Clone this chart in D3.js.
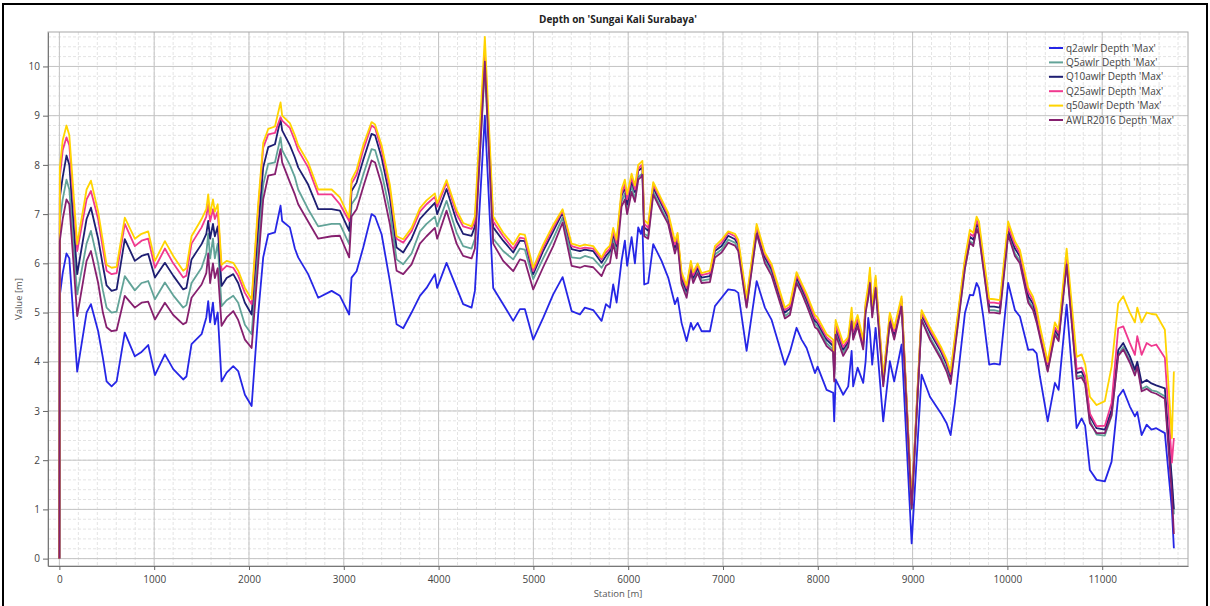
<!DOCTYPE html>
<html>
<head>
<meta charset="utf-8">
<script src="https://cdn.jsdelivr.net/npm/d3@7"></script>
<style>
  html, body { margin: 0; padding: 0; background: #fff; }
  svg text { font-family: "Open Sans", "Noto Sans", sans-serif; }
</style>
</head>
<body>
<div id="chart"></div>
<script>
const width = 1210,
      height = 606;
const plot = { left: 48, right: 1188, top: 32, bottom: 566 };

// station [m]
const stations = [0, 5, 35, 75, 105, 188, 287, 333, 409, 459, 498, 551, 604, 690, 796, 867, 937, 1008, 1113, 1201, 1306, 1340, 1394, 1500, 1550, 1570, 1590, 1620, 1640, 1670, 1711, 1764, 1834, 1886, 1957, 2028, 2097, 2150, 2203, 2274, 2333, 2350, 2431, 2484, 2519, 2624, 2730, 2872,
  2959, 3057, 3082, 3135, 3205, 3293, 3330, 3399, 3486, 3557, 3627, 3715, 3803, 3873, 3961, 3985, 4084, 4190, 4259, 4348, 4383, 4488, 4576, 4681, 4787, 4858, 4910, 4998, 5103, 5209, 5308, 5403, 5491, 5543, 5631, 5719, 5765, 5807, 5842, 5878, 5930, 5965, 5989, 6036,
  6071, 6106, 6134, 6150, 6169, 6211, 6264, 6352, 6422, 6493, 6521, 6563, 6616, 6661, 6686, 6732, 6774, 6862, 6915, 6985, 7055, 7126, 7161, 7249, 7355, 7442, 7513, 7653, 7706, 7776, 7829, 7882, 7970, 7998, 8093, 8162, 8173, 8188, 8268, 8321, 8357, 8373, 8420, 8479, 8504, 8532, 8550, 8574, 8610, 8690, 8760, 8806, 8884, 8990,
  9095, 9183, 9300, 9359, 9401, 9446, 9552, 9604, 9640, 9675, 9700, 9745, 9808, 9860, 9921, 10008, 10079, 10132, 10220, 10270, 10308, 10343, 10425, 10501, 10540, 10625, 10730, 10783, 10820, 10870, 10941, 11028, 11099, 11169, 11222, 11292, 11345, 11370, 11416, 11469, 11520, 11570, 11661, 11735, 11756];

// depth 'Max' [m] per run
const q2awlr = [0, 5.35, 5.8, 6.2, 6.1, 3.8, 5.0, 5.17, 4.62, 4.08, 3.6, 3.5, 3.6, 4.59, 4.11, 4.2, 4.34, 3.73, 4.15, 3.85, 3.64, 3.7, 4.36, 4.56, 4.9, 5.23, 4.8, 5.2, 4.76, 5.0, 3.6, 3.78, 3.91, 3.81, 3.33, 3.1, 4.96, 6.12, 6.59, 6.63, 7.17, 6.86, 6.73, 6.3, 6.12, 5.78, 5.3, 5.44,
  5.34, 4.96, 5.71, 5.84, 6.32, 7.0, 6.95, 6.59, 5.64, 4.76, 4.68, 5.0, 5.34, 5.5, 5.78, 5.5, 6.01, 5.5, 5.17, 5.1, 5.44, 9.0, 5.5, 5.17, 4.83, 5.07, 5.07, 4.45, 4.89, 5.37, 5.72, 5.03, 4.96, 5.1, 5.05, 4.83, 5.17, 5.1, 5.57, 5.2, 6.05, 6.46, 5.95, 6.53,
  6.0, 6.73, 6.6, 6.75, 5.57, 5.6, 6.39, 6.05, 5.71, 5.17, 5.3, 4.79, 4.42, 4.79, 4.65, 4.79, 4.62, 4.62, 5.13, 5.3, 5.47, 5.45, 5.4, 4.22, 5.64, 5.1, 4.85, 3.94, 4.2, 4.69, 4.45, 4.28, 3.77, 3.9, 3.43, 3.37, 2.79, 3.64, 3.33, 3.5, 4.22, 3.5, 3.88, 3.57, 4.0, 4.89, 4.6, 3.94, 4.69, 2.79, 4.01, 3.6, 4.35, 0.31,
  3.74, 3.29, 2.95, 2.75, 2.51, 3.16, 4.99, 5.36, 5.35, 5.6, 5.5, 4.92, 3.94, 3.96, 3.94, 5.6, 5.05, 4.92, 4.24, 4.25, 4.17, 3.7, 2.79, 3.57, 3.43, 5.16, 2.65, 2.85, 2.7, 1.8, 1.6, 1.57, 1.97, 3.29, 3.43, 3.09, 2.89, 2.98, 2.51, 2.72, 2.62, 2.65, 2.55, 1.0, 0.21];

const q5awlr = [0, 6.86, 7.3, 7.7, 7.5, 5.37, 6.4, 6.66, 6.0, 5.45, 5.1, 5.0, 5.02, 5.74, 5.45, 5.6, 5.64, 5.27, 5.61, 5.35, 5.1, 5.15, 5.6, 5.91, 6.2, 6.6, 6.1, 6.5, 6.1, 6.4, 5.13, 5.25, 5.34, 5.2, 4.75, 4.56, 6.3, 7.6, 8.02, 8.05, 8.56, 8.3, 8.0, 7.75, 7.5, 7.1, 6.75, 6.8,
  6.8, 6.39, 7.2, 7.35, 7.8, 8.32, 8.3, 7.85, 7.05, 6.08, 5.98, 6.2, 6.65, 6.8, 6.95, 6.75, 7.27, 6.62, 6.35, 6.3, 6.5, 9.95, 6.5, 6.25, 6.08, 6.3, 6.28, 5.68, 6.1, 6.5, 6.93, 6.12, 6.1, 6.15, 6.1, 5.91, 6.05, 6.2, 6.5, 6.25, 7.25, 7.42, 7.1, 7.58,
  7.3, 7.75, 7.8, 7.82, 6.6, 6.55, 7.45, 7.1, 6.85, 6.25, 6.45, 5.65, 5.37, 5.9, 5.65, 5.85, 5.65, 5.68, 6.18, 6.28, 6.48, 6.42, 6.3, 5.12, 6.62, 6.05, 5.82, 4.93, 5.0, 5.65, 5.45, 5.2, 4.77, 4.72, 4.38, 4.25, 3.7, 4.62, 4.19, 4.35, 4.88, 4.5, 4.78, 4.3, 5.05, 5.3, 5.65, 4.95, 5.56, 3.55, 4.83, 4.5, 5.17, 1.0,
  4.85, 4.5, 4.1, 3.85, 3.62, 4.3, 5.9, 6.45, 6.4, 6.72, 6.6, 5.95, 5.05, 5.05, 5.02, 6.6, 6.2, 6.05, 5.25, 5.1, 4.85, 4.55, 3.82, 4.58, 4.45, 6.0, 3.7, 3.72, 3.58, 2.8, 2.52, 2.5, 2.9, 4.15, 4.3, 4.02, 3.78, 3.95, 3.45, 3.5, 3.42, 3.4, 3.3, 1.5, 0.9];

const q10awlr = [0, 7.34, 7.75, 8.19, 8.0, 5.78, 6.9, 7.13, 6.5, 5.95, 5.55, 5.44, 5.47, 6.49, 6.05, 6.15, 6.19, 5.71, 6.01, 5.75, 5.47, 5.5, 6.08, 6.39, 6.6, 6.86, 6.5, 6.8, 6.55, 6.75, 5.54, 5.7, 5.78, 5.6, 5.2, 4.96, 6.73, 7.95, 8.36, 8.42, 8.93, 8.7, 8.4, 8.15, 7.95, 7.6, 7.1, 7.1,
  7.07, 6.66, 7.47, 7.64, 8.1, 8.63, 8.6, 8.15, 7.34, 6.32, 6.22, 6.5, 6.9, 7.05, 7.23, 7.0, 7.51, 6.86, 6.6, 6.56, 6.75, 10.2, 6.73, 6.46, 6.22, 6.46, 6.45, 5.78, 6.25, 6.65, 7.03, 6.29, 6.25, 6.28, 6.25, 6.01, 6.15, 6.25, 6.6, 6.35, 7.37, 7.54, 7.2, 7.68,
  7.45, 7.88, 7.92, 7.95, 6.73, 6.66, 7.54, 7.2, 6.93, 6.32, 6.52, 5.71, 5.44, 5.95, 5.71, 5.91, 5.71, 5.74, 6.25, 6.35, 6.56, 6.49, 6.38, 5.2, 6.69, 6.12, 5.88, 5.0, 5.08, 5.71, 5.5, 5.27, 4.83, 4.78, 4.45, 4.32, 3.75, 4.69, 4.25, 4.4, 4.93, 4.55, 4.83, 4.35, 5.1, 5.4, 5.71, 5.0, 5.61, 3.6, 4.89, 4.56, 5.23, 1.09,
  4.95, 4.6, 4.2, 3.95, 3.7, 4.4, 6.0, 6.54, 6.48, 6.82, 6.7, 6.05, 5.12, 5.12, 5.1, 6.68, 6.3, 6.14, 5.33, 5.18, 4.92, 4.6, 3.9, 4.65, 4.52, 6.07, 3.77, 3.8, 3.65, 2.89, 2.65, 2.62, 3.02, 4.24, 4.38, 4.11, 3.84, 4.0, 3.57, 3.63, 3.56, 3.52, 3.46, 1.6, 1.0];

const q25awlr = [0, 7.75, 8.3, 8.56, 8.4, 6.25, 7.3, 7.47, 6.9, 6.3, 5.85, 5.78, 5.8, 6.8, 6.35, 6.46, 6.5, 5.91, 6.3, 6.0, 5.71, 5.75, 6.4, 6.73, 6.95, 7.2, 6.85, 7.1, 6.9, 7.05, 5.85, 5.95, 5.91, 5.75, 5.4, 5.17, 7.1, 8.35, 8.62, 8.65, 8.97, 8.9, 8.75, 8.49, 8.3, 7.95, 7.4, 7.4,
  7.2, 6.86, 7.62, 7.8, 8.3, 8.8, 8.75, 8.3, 7.5, 6.5, 6.42, 6.65, 7.05, 7.2, 7.35, 7.15, 7.64, 7.0, 6.75, 6.7, 6.85, 10.3, 6.85, 6.55, 6.29, 6.52, 6.5, 5.84, 6.32, 6.72, 7.07, 6.35, 6.3, 6.32, 6.3, 6.08, 6.22, 6.3, 6.65, 6.4, 7.42, 7.6, 7.3, 7.75,
  7.5, 7.92, 7.98, 8.0, 6.8, 6.72, 7.6, 7.25, 6.98, 6.38, 6.57, 5.76, 5.5, 6.0, 5.76, 5.96, 5.76, 5.8, 6.3, 6.42, 6.62, 6.55, 6.42, 5.25, 6.74, 6.18, 5.93, 5.05, 5.12, 5.76, 5.55, 5.32, 4.88, 4.83, 4.5, 4.38, 3.8, 4.75, 4.3, 4.45, 4.98, 4.6, 4.88, 4.4, 5.15, 5.45, 5.8, 5.05, 5.68, 3.65, 4.95, 4.62, 5.28, 1.12,
  5.0, 4.65, 4.25, 4.0, 3.75, 4.45, 6.05, 6.6, 6.55, 6.88, 6.75, 6.12, 5.2, 5.2, 5.18, 6.75, 6.38, 6.2, 5.42, 5.25, 5.0, 4.65, 3.95, 4.7, 4.58, 6.15, 3.85, 3.88, 3.72, 2.95, 2.69, 2.7, 3.16, 4.68, 4.72, 4.38, 4.14, 4.52, 4.14, 4.38, 4.32, 4.35, 4.08, 1.95, 2.45];

const q50awlr = [0, 7.95, 8.5, 8.8, 8.6, 6.39, 7.5, 7.68, 7.05, 6.45, 5.97, 5.91, 5.93, 6.93, 6.5, 6.6, 6.65, 6.05, 6.45, 6.15, 5.85, 5.9, 6.55, 6.9, 7.1, 7.4, 7.0, 7.3, 7.05, 7.2, 5.97, 6.05, 6.01, 5.85, 5.5, 5.27, 7.2, 8.45, 8.73, 8.78, 9.27, 9.0, 8.85, 8.6, 8.4, 8.05, 7.5, 7.5,
  7.34, 6.93, 7.7, 7.9, 8.4, 8.87, 8.82, 8.4, 7.6, 6.55, 6.49, 6.72, 7.12, 7.28, 7.42, 7.22, 7.69, 7.08, 6.82, 6.75, 6.95, 10.6, 6.95, 6.62, 6.38, 6.6, 6.58, 5.91, 6.38, 6.78, 7.1, 6.4, 6.35, 6.38, 6.35, 6.12, 6.28, 6.36, 6.72, 6.48, 7.5, 7.7, 7.4, 7.82,
  7.58, 8.0, 8.05, 8.08, 6.88, 6.8, 7.65, 7.3, 7.03, 6.45, 6.62, 5.82, 5.55, 6.05, 5.82, 6.0, 5.8, 5.85, 6.35, 6.48, 6.65, 6.6, 6.48, 5.3, 6.8, 6.22, 5.98, 5.1, 5.18, 5.82, 5.6, 5.38, 4.95, 4.9, 4.56, 4.45, 4.0, 4.85, 4.38, 4.5, 5.1, 4.68, 4.95, 4.45, 5.2, 5.55, 5.91, 5.1, 5.75, 3.7, 5.0, 4.68, 5.33, 1.15,
  5.05, 4.7, 4.3, 4.05, 3.8, 4.5, 6.1, 6.68, 6.62, 6.95, 6.85, 6.18, 5.28, 5.27, 5.25, 6.85, 6.45, 6.27, 5.5, 5.32, 5.08, 4.72, 4.0, 4.8, 4.65, 6.3, 4.1, 4.15, 3.95, 3.29, 3.12, 3.2, 3.9, 5.19, 5.33, 5.0, 4.8, 5.1, 4.8, 5.0, 4.97, 4.96, 4.65, 2.45, 3.8];

const awlr2016 = [0, 6.46, 6.9, 7.3, 7.2, 4.93, 6.05, 6.25, 5.6, 5.0, 4.7, 4.62, 4.64, 5.34, 5.1, 5.2, 5.22, 4.86, 5.2, 4.95, 4.76, 4.8, 5.3, 5.57, 5.8, 6.2, 5.6, 6.0, 5.7, 5.9, 4.73, 4.9, 5.03, 4.85, 4.45, 4.28, 6.0, 7.3, 7.78, 7.81, 8.32, 8.05, 7.65, 7.4, 7.2, 6.85, 6.5, 6.55,
  6.56, 6.12, 6.95, 7.1, 7.55, 8.09, 8.05, 7.6, 6.8, 5.85, 5.78, 5.98, 6.4, 6.55, 6.72, 6.5, 7.07, 6.4, 6.15, 6.1, 6.3, 10.1, 6.4, 6.05, 5.84, 6.08, 6.05, 5.47, 5.92, 6.35, 6.83, 5.95, 5.91, 5.95, 5.92, 5.74, 5.95, 6.0, 6.4, 6.1, 7.15, 7.3, 7.0, 7.45,
  7.25, 7.7, 7.75, 7.8, 6.55, 6.5, 7.4, 7.05, 6.8, 6.2, 6.4, 5.58, 5.3, 5.82, 5.6, 5.8, 5.6, 5.62, 6.12, 6.22, 6.42, 6.36, 6.25, 5.1, 6.6, 6.0, 5.75, 4.88, 4.95, 5.6, 5.4, 5.15, 4.7, 4.66, 4.32, 4.2, 3.6, 4.55, 4.12, 4.3, 4.82, 4.45, 4.72, 4.25, 5.0, 5.3, 5.6, 4.9, 5.5, 3.5, 4.8, 4.45, 5.12, 1.02,
  4.85, 4.45, 4.05, 3.8, 3.55, 4.25, 5.9, 6.42, 6.35, 6.7, 6.58, 5.92, 5.0, 5.0, 4.98, 6.58, 6.15, 6.0, 5.2, 5.05, 4.8, 4.5, 3.8, 4.55, 4.42, 5.98, 3.65, 3.68, 3.55, 2.75, 2.55, 2.55, 2.92, 4.12, 4.25, 3.98, 3.72, 3.9, 3.4, 3.45, 3.38, 3.35, 3.25, 1.3, 0.5];

const seriesNames = ["q2awlr Depth 'Max'", "Q5awlr Depth 'Max'", "Q10awlr Depth 'Max'", "Q25awlr Depth 'Max'", "q50awlr Depth 'Max'", "AWLR2016 Depth 'Max'"];
const seriesValues = [q2awlr, q5awlr, q10awlr, q25awlr, q50awlr, awlr2016];
const seriesColors = ["#2626e6", "#62a398", "#1e1e72", "#f0398f", "#ffd400", "#86206f"];

const xMajorTicks = d3.range(0, 11001, 1000);
const xMinorTicks = d3.range(0, 11801, 200);
const yMajorTicks = d3.range(0, 11, 1);
const yMinorTicks = d3.range(0, 10.61, 0.2);

const svg = d3.select("#chart")
  .append("svg")
  .attr("width", width)
  .attr("height", height);

const x = d3.scaleLinear().domain([-120, 11905]).range([plot.left, plot.right]);
const y = d3.scaleLinear().domain([-0.15, 10.7]).range([plot.bottom, plot.top]);

// outer frame
svg.append("rect")
  .attr("x", 3).attr("y", 4)
  .attr("width", width - 6).attr("height", height + 10)
  .attr("fill", "none")
  .attr("stroke", "#000")
  .attr("stroke-width", 2);

// grid
const grid = svg.append("g");
grid.selectAll(".vminor").data(xMinorTicks).join("line")
  .attr("x1", d => x(d)).attr("x2", d => x(d))
  .attr("y1", plot.top).attr("y2", plot.bottom)
  .attr("stroke", "#e4e4e4").attr("stroke-dasharray", "3,2");
grid.selectAll(".hminor").data(yMinorTicks).join("line")
  .attr("x1", plot.left).attr("x2", plot.right)
  .attr("y1", d => y(d)).attr("y2", d => y(d))
  .attr("stroke", "#e4e4e4").attr("stroke-dasharray", "3,2");
grid.selectAll(".vmajor").data(xMajorTicks).join("line")
  .attr("x1", d => x(d)).attr("x2", d => x(d))
  .attr("y1", plot.top).attr("y2", plot.bottom)
  .attr("stroke", "#c4c4c4");
grid.selectAll(".hmajor").data(yMajorTicks).join("line")
  .attr("x1", plot.left).attr("x2", plot.right)
  .attr("y1", d => y(d)).attr("y2", d => y(d))
  .attr("stroke", "#c4c4c4");

svg.append("rect")
  .attr("x", plot.left).attr("y", plot.top)
  .attr("width", plot.right - plot.left).attr("height", plot.bottom - plot.top)
  .attr("fill", "none").attr("stroke", "#a8a8a8");

// lines
const line = d3.line()
  .x((d, i) => x(stations[i]))
  .y(d => y(d));

seriesValues.forEach((values, i) => {
  svg.append("path")
    .datum(values)
    .attr("fill", "none")
    .attr("stroke", seriesColors[i])
    .attr("stroke-width", 1.8)
    .attr("stroke-linejoin", "round")
    .attr("d", line);
});

// axes
const xAxis = svg.append("g").attr("transform", `translate(0,${plot.bottom})`);
xAxis.call(d3.axisBottom(x).tickValues(xMinorTicks).tickSize(4).tickFormat("").tickSizeOuter(0));
xAxis.call(d3.axisBottom(x).tickValues(xMajorTicks).tickSize(4).tickSizeOuter(0).tickPadding(6).tickFormat(d3.format("d")));
xAxis.selectAll("path").attr("stroke", "#777");
xAxis.selectAll("line").attr("stroke", "#666");
xAxis.selectAll("text").attr("font-size", 10).attr("fill", "#444");

const yAxis = svg.append("g").attr("transform", `translate(${plot.left},0)`);
yAxis.call(d3.axisLeft(y).tickValues(yMinorTicks).tickSize(3).tickFormat("").tickSizeOuter(0));
yAxis.call(d3.axisLeft(y).tickValues(yMajorTicks).tickSize(5).tickSizeOuter(0).tickPadding(3));
yAxis.selectAll("path").attr("stroke", "#777");
yAxis.selectAll("line").attr("stroke", "#666");
yAxis.selectAll("text").attr("font-size", 10).attr("fill", "#444");

// titles
svg.append("text")
  .attr("x", (plot.left + plot.right) / 2)
  .attr("y", 23)
  .attr("text-anchor", "middle")
  .attr("font-size", 10)
  .attr("font-weight", "bold")
  .attr("fill", "#222")
  .text("Depth on 'Sungai Kali Surabaya'");

svg.append("text")
  .attr("x", (plot.left + plot.right) / 2)
  .attr("y", 597)
  .attr("text-anchor", "middle")
  .attr("font-size", 9.5)
  .attr("fill", "#555")
  .text("Station [m]");

svg.append("text")
  .attr("transform", `translate(22,${(plot.top + plot.bottom) / 2}) rotate(-90)`)
  .attr("text-anchor", "middle")
  .attr("font-size", 9.5)
  .attr("fill", "#555")
  .text("Value [m]");

// legend
const legend = svg.append("g").attr("transform", "translate(1049,48)");
seriesNames.forEach((name, i) => {
  const row = legend.append("g").attr("transform", `translate(0,${i * 14.4})`);
  row.append("line")
    .attr("x1", 0).attr("x2", 14)
    .attr("stroke", seriesColors[i]).attr("stroke-width", 2);
  row.append("text")
    .attr("x", 17).attr("dy", "0.35em")
    .attr("font-size", 10)
    .attr("fill", "#444")
    .text(name);
});
</script>
</body>
</html>
